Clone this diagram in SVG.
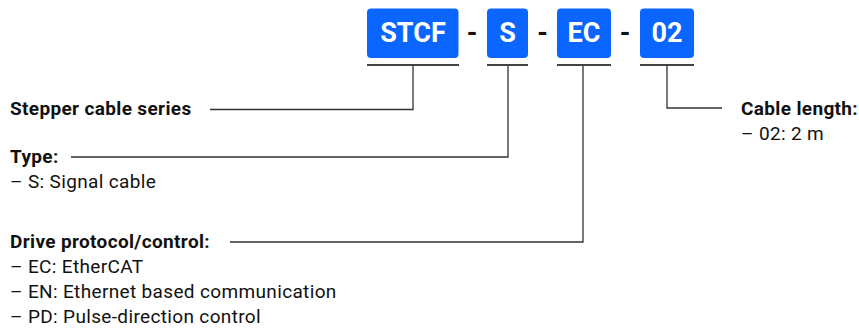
<svg xmlns="http://www.w3.org/2000/svg" width="859" height="330" viewBox="0 0 859 330">
<style>
.box{fill:#0a66ff}
.bt{font-family:Roboto,"Liberation Sans",sans-serif;font-weight:700;font-size:27px;fill:#fff;text-anchor:middle}
.dash{font-family:Roboto,"Liberation Sans",sans-serif;font-weight:700;font-size:27px;fill:#111;text-anchor:middle}
.ul{stroke:#444;stroke-width:2.2;fill:none}
.con{stroke:#333;stroke-width:1.3;fill:none}
.h{font-family:Roboto,"Liberation Sans",sans-serif;font-weight:700;font-size:19px;letter-spacing:0.35px;fill:#111}
.t{font-family:Roboto,"Liberation Sans",sans-serif;font-size:19px;letter-spacing:0.35px;fill:#111}
</style>
<rect width="859" height="330" fill="#fff"/>
<g id="code-stcf"><rect class="box" x="367" y="8.5" width="91.5" height="49.5" rx="4"/><text class="bt" x="413" y="42.3">STCF</text></g>
<text class="dash" x="472" y="42">-</text>
<g id="code-s"><rect class="box" x="487" y="8.5" width="41" height="49.5" rx="4"/><text class="bt" x="507.5" y="42.3">S</text></g>
<text class="dash" x="542.5" y="42">-</text>
<g id="code-ec"><rect class="box" x="557" y="8.5" width="54" height="49.5" rx="4"/><text class="bt" x="584" y="42.3">EC</text></g>
<text class="dash" x="625" y="42">-</text>
<g id="code-02"><rect class="box" x="640" y="8.5" width="54" height="49.5" rx="4"/><text class="bt" x="667" y="42.3">02</text></g>
<g id="connectors">
<line class="ul" x1="367" y1="65" x2="459" y2="65"/>
<line class="ul" x1="487" y1="65" x2="528" y2="65"/>
<line class="ul" x1="557" y1="65" x2="611" y2="65"/>
<line class="ul" x1="640" y1="65" x2="694" y2="65"/>
<polyline class="con" points="413,66 413,109.5 210,109.5"/>
<polyline class="con" points="508,66 508,157 71,157"/>
<polyline class="con" points="583,66 583,242 230,242"/>
<polyline class="con" points="667,66 667,108 722,108"/>
</g>
<g id="label-series"><text class="h" x="10" y="114.5">Stepper cable series</text></g>
<g id="label-type"><text class="h" x="10" y="162.5">Type:</text><text class="t" x="10" y="188">– S: Signal cable</text></g>
<g id="label-drive"><text class="h" x="10" y="248">Drive protocol/control:</text><text class="t" x="10" y="273">– EC: EtherCAT</text><text class="t" x="10" y="298">– EN: Ethernet based communication</text><text class="t" x="10" y="322.5">– PD: Pulse-direction control</text></g>
<g id="label-length"><text class="h" x="741" y="115">Cable length:</text><text class="t" x="741" y="140">– 02: 2 m</text></g>
</svg>
